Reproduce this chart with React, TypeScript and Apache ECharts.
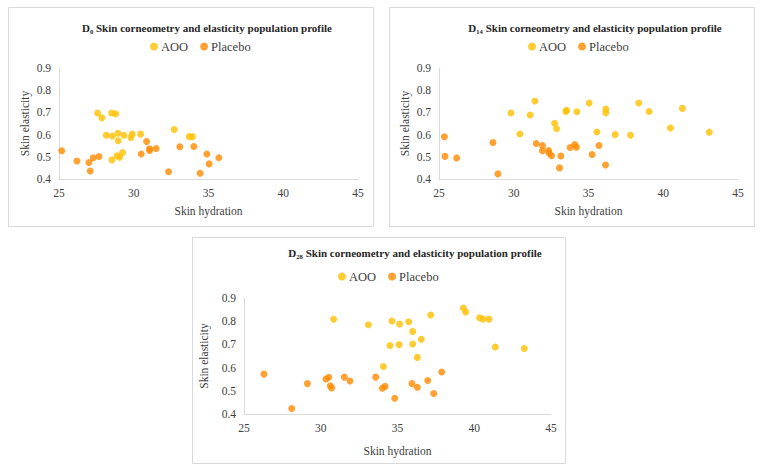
import React, { useEffect, useRef } from "react";
import * as echarts from "echarts";

// Panel D0
const d0AOO: [number, number][] = [
  [27.58, 0.697], [27.87, 0.676], [28.52, 0.697], [28.79, 0.694], [28.16, 0.597],
  [28.56, 0.594], [28.94, 0.606], [29.34, 0.597], [28.96, 0.572], [29.81, 0.587],
  [29.9, 0.603], [30.46, 0.602], [28.88, 0.505], [29.05, 0.498], [29.25, 0.519],
  [28.54, 0.486], [32.71, 0.623], [33.71, 0.591], [33.93, 0.591],
];
const d0Placebo: [number, number][] = [
  [25.18, 0.527], [26.2, 0.481], [27.0, 0.474], [27.09, 0.436], [27.29, 0.496],
  [27.67, 0.501], [30.86, 0.569], [30.5, 0.513], [31.06, 0.536], [31.06, 0.528],
  [31.5, 0.537], [32.33, 0.433], [33.08, 0.545], [34.02, 0.546], [34.44, 0.426],
  [34.89, 0.513], [35.04, 0.468], [35.69, 0.496],
];
// Panel D14
const d14AOO: [number, number][] = [
  [29.81, 0.697], [30.41, 0.603], [31.1, 0.688], [31.41, 0.751], [32.73, 0.651],
  [32.86, 0.626], [33.49, 0.704], [33.53, 0.71], [34.22, 0.703], [35.04, 0.742],
  [35.56, 0.612], [36.16, 0.715], [36.16, 0.698], [36.78, 0.6], [37.81, 0.597],
  [38.36, 0.742], [39.05, 0.704], [40.48, 0.63], [41.28, 0.718], [43.08, 0.611],
];
const d14Placebo: [number, number][] = [
  [25.36, 0.59], [25.4, 0.502], [26.18, 0.495], [28.61, 0.564], [28.94, 0.423],
  [31.5, 0.56], [31.92, 0.551], [31.92, 0.527], [32.33, 0.528], [32.37, 0.516],
  [32.53, 0.505], [33.06, 0.45], [33.15, 0.504], [33.77, 0.542], [34.08, 0.555],
  [34.19, 0.543], [35.24, 0.51], [35.7, 0.551], [36.14, 0.463],
];
// Panel D28
const d28AOO: [number, number][] = [
  [30.84, 0.808], [33.1, 0.785], [34.64, 0.801], [35.14, 0.788], [35.73, 0.798],
  [35.99, 0.756], [35.99, 0.702], [34.51, 0.695], [35.1, 0.699], [36.55, 0.722],
  [36.29, 0.644], [34.08, 0.605], [37.16, 0.827], [39.29, 0.857], [39.44, 0.84],
  [40.35, 0.815], [40.57, 0.809], [40.96, 0.809], [41.37, 0.689], [43.26, 0.682],
];
const d28Placebo: [number, number][] = [
  [26.3, 0.572], [28.11, 0.424], [29.13, 0.531], [30.34, 0.551], [30.52, 0.558],
  [30.62, 0.522], [30.71, 0.512], [31.54, 0.559], [31.9, 0.542], [33.58, 0.559],
  [34.01, 0.511], [34.19, 0.519], [34.82, 0.468], [35.94, 0.531], [36.29, 0.515],
  [36.97, 0.544], [37.36, 0.488], [37.88, 0.581],
];

const seriesNames = ["AOO", "Placebo"];
const titles = [
  "D₀ Skin corneometry and elasticity population profile",
  "D₁₄ Skin corneometry and elasticity population profile",
  "D₂₈ Skin corneometry and elasticity population profile",
];
const xName = "Skin hydration";
const yName = "Skin elasticity";

const FONT = "Liberation Serif";
const YELLOW = "#FFC000";
const ORANGE = "#FF8A00";

export default function App() {
  const ref = useRef<HTMLDivElement>(null);
  useEffect(() => {
    document.body.style.margin = "0";
    const chart = echarts.init(ref.current!, null, { renderer: "svg" });

    const panels = [
      { grid: { left: 59, top: 68, width: 299, height: 111 }, title: [207, 20], legend: 150, legendTop: 40, aoo: d0AOO, pla: d0Placebo, xGap: 26, yGap: 28, box: [8, 7, 365, 219] },
      { grid: { left: 439, top: 68, width: 299, height: 111 }, title: [595, 20], legend: 528, legendTop: 40, aoo: d14AOO, pla: d14Placebo, xGap: 26, yGap: 28, box: [389, 7, 365, 219] },
      { grid: { left: 244, top: 298, width: 307, height: 116 }, title: [415, 245], legend: 338, legendTop: 270, aoo: d28AOO, pla: d28Placebo, xGap: 31, yGap: 34, box: [192, 237, 373, 226] },
    ];

    const option: any = {
      animation: false,
      backgroundColor: "#fff",
      title: panels.map((p, i) => ({
        text: titles[i],
        left: p.title[0],
        top: p.title[1],
        padding: 0,
        textAlign: "center",
        textStyle: { fontFamily: FONT, fontWeight: "bold", fontSize: 11, lineHeight: 16, color: "#262626" },
      })),
      legend: panels.map((p) => ({
        data: seriesNames,
        left: p.legend,
        top: p.legendTop,
        padding: 0,
        icon: "circle",
        itemWidth: 8,
        itemHeight: 8,
        itemGap: 12,
        textStyle: { fontFamily: FONT, fontSize: 12.5, color: "#404040", padding: [0, 0, 0, -2] },
      })),
      grid: panels.map((p) => p.grid),
      xAxis: panels.map((p, i) => ({
        gridIndex: i,
        type: "value",
        min: 25,
        max: 45,
        interval: 5,
        name: xName,
        nameLocation: "middle",
        nameGap: p.xGap,
        nameTextStyle: { fontFamily: FONT, fontSize: 11.5, color: "#404040" },
        axisLine: { show: true, lineStyle: { color: "#d9d9d9" } },
        axisTick: { show: false },
        splitLine: { show: false },
        axisLabel: { fontFamily: FONT, fontSize: 11.5, color: "#404040", margin: 8 },
      })),
      yAxis: panels.map((p, i) => ({
        gridIndex: i,
        type: "value",
        min: 0.4,
        max: 0.9,
        interval: 0.1,
        name: yName,
        nameLocation: "middle",
        nameRotate: 90,
        nameGap: p.yGap,
        nameTextStyle: { fontFamily: FONT, fontSize: 11.5, color: "#404040" },
        axisLine: { show: true, lineStyle: { color: "#d9d9d9" } },
        axisTick: { show: false },
        splitLine: { show: false },
        axisLabel: { fontFamily: FONT, fontSize: 11.5, color: "#404040", margin: 8, formatter: (v: number) => v.toFixed(1) },
      })),
      series: panels.flatMap((p, i) => [
        { name: seriesNames[0], type: "scatter", xAxisIndex: i, yAxisIndex: i, data: p.aoo, symbolSize: 7, itemStyle: { color: YELLOW } },
        { name: seriesNames[1], type: "scatter", xAxisIndex: i, yAxisIndex: i, data: p.pla, symbolSize: 7, itemStyle: { color: ORANGE } },
      ]),
      graphic: panels.map((p) => ({
        type: "rect",
        shape: { x: p.box[0] + 0.5, y: p.box[1] + 0.5, width: p.box[2], height: p.box[3] },
        style: { fill: "none", stroke: "#d9d9d9", lineWidth: 1 },
        silent: true,
        z: -1,
      })),
    };
    chart.setOption(option);
    return () => chart.dispose();
  }, []);
  return <div ref={ref} style={{ position: "fixed", left: 0, top: 0, width: 761, height: 471 }} />;
}
